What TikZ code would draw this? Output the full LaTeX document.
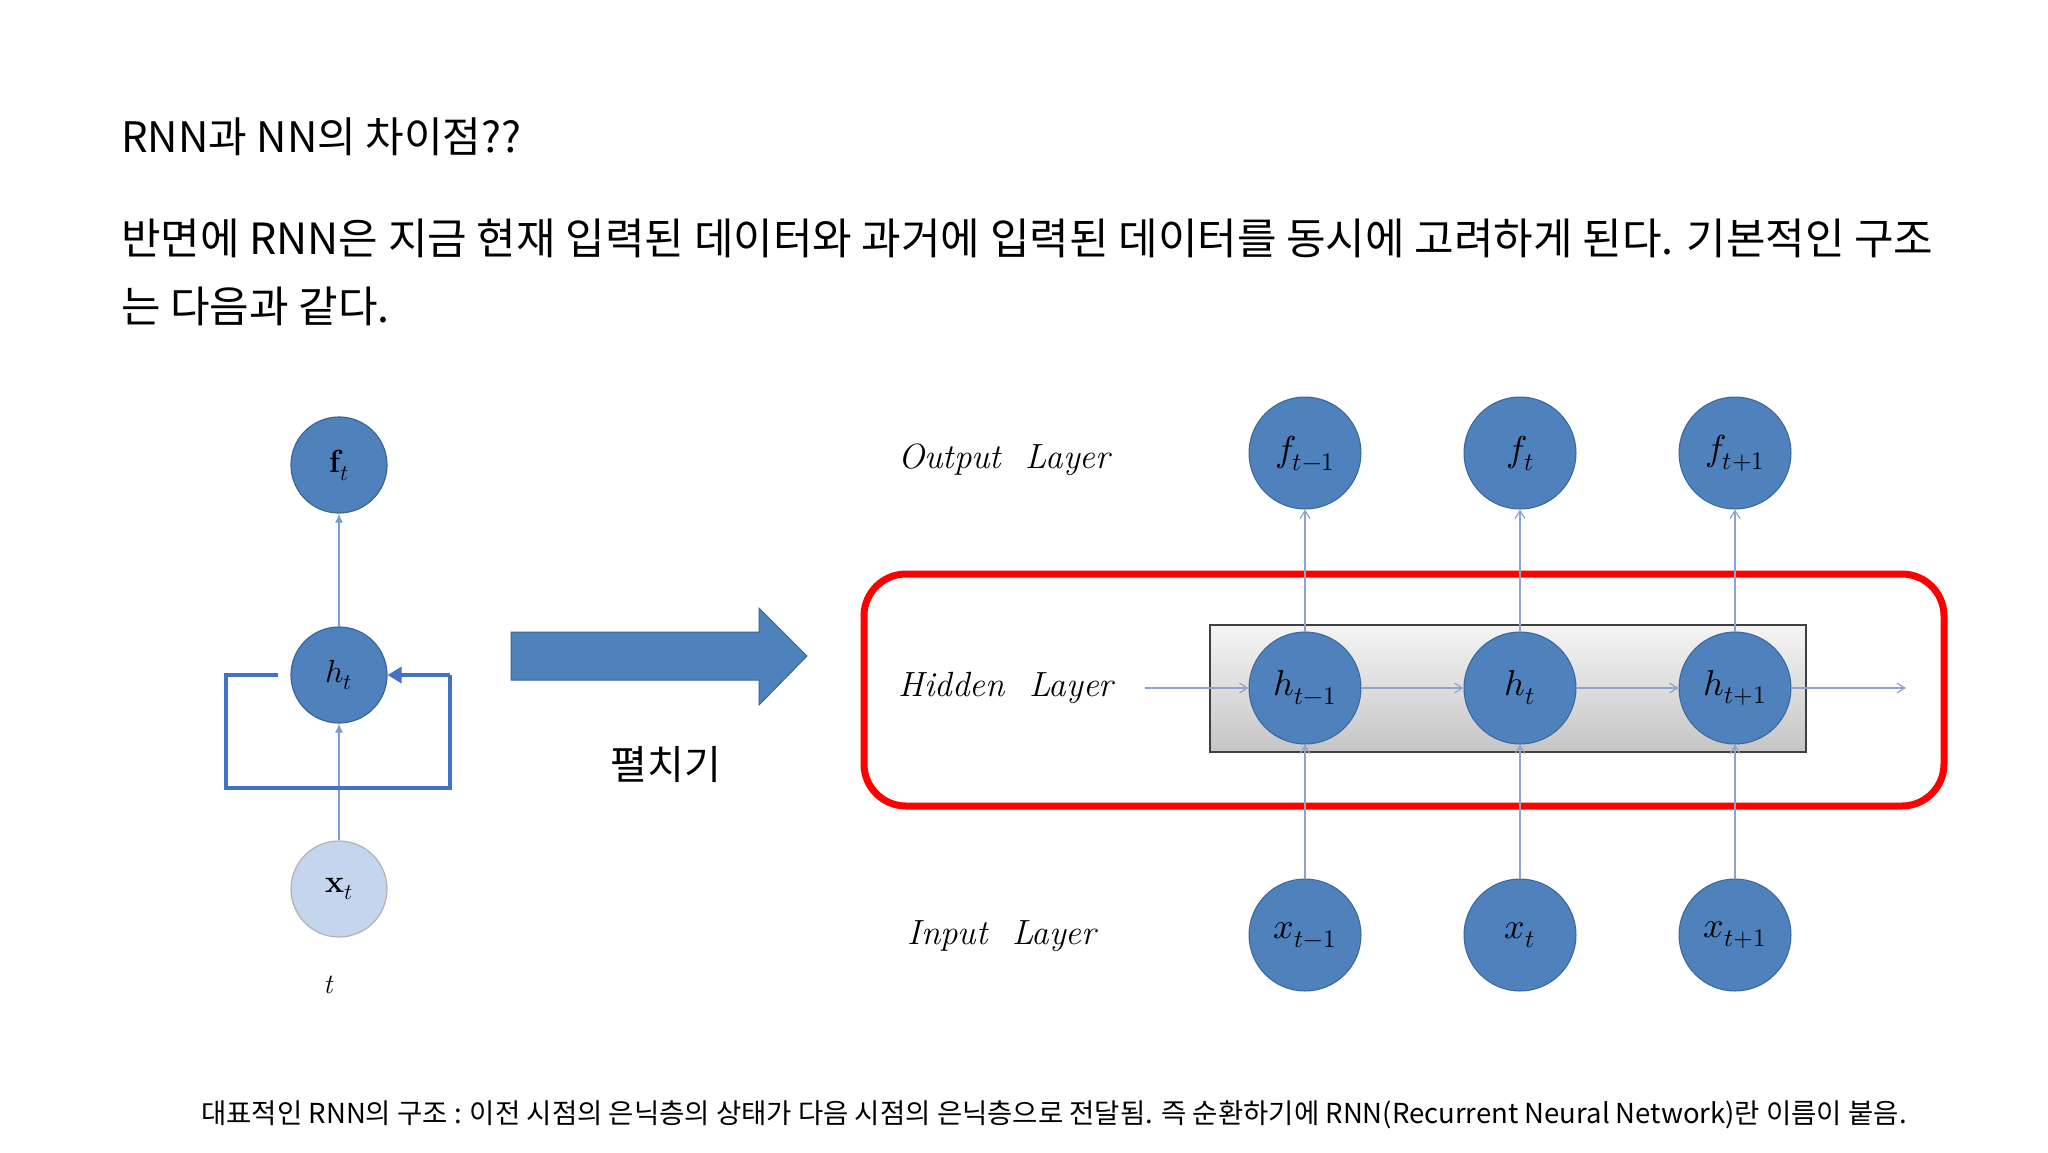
\documentclass[tikz,border=0pt]{standalone}
\usepackage{fontspec}
\usepackage{unicode-math}
\setmathfont{Latin Modern Math}
\newfontfamily\kr{Noto Sans CJK KR}
\usetikzlibrary{arrows.meta}
\definecolor{nblue}{HTML}{4F81BD}
\definecolor{nedge}{HTML}{3A6599}
\definecolor{lblue}{HTML}{C6D5EE}
\definecolor{conn}{HTML}{8EA4C8}
\definecolor{loopc}{HTML}{4472C4}
\tikzset{
 neuron/.style={circle,fill=nblue,draw=nedge,line width=1pt,minimum size=112pt,inner sep=0pt,font=\fontsize{36}{36}\selectfont},
 sneuron/.style={circle,fill=nblue,draw=nedge,line width=1.2pt,minimum size=96pt,inner sep=0pt,font=\fontsize{32}{32}\selectfont},
 conn/.style={draw=conn,line width=1.2pt,-{Straight Barb[length=8pt,width=10pt]}},
 layerlbl/.style={font=\fontsize{35}{35}\selectfont\itshape},
 krtext/.style={font=\kr\fontsize{42}{42}\selectfont,anchor=west,inner sep=0pt}
}
\begin{document}
\begin{tikzpicture}[x=1pt,y=-1pt]
\useasboundingbox[fill=white] (0,0) rectangle (2048,1152);
% texts
\node[krtext] (title) at (121,137) {RNN과 NN의 차이점??};
\node[krtext,font=\kr\fontsize{43}{43}\selectfont] (p1) at (121,238) {반면에 RNN은 지금 현재 입력된 데이터와 과거에 입력된 데이터를 동시에 고려하게 된다. 기본적인 구조};
\node[krtext,font=\kr\fontsize{43}{43}\selectfont] (p2) at (121,306) {는 다음과 같다.};
\node[font=\kr\fontsize{27.5}{27.5}\selectfont,inner sep=0pt] (cap) at (1054,1115) {대표적인 RNN의 구조 : 이전 시점의 은닉층의 상태가 다음 시점의 은닉층으로 전달됨. 즉 순환하기에 RNN(Recurrent Neural Network)란 이름이 붙음.};
% left folded RNN
\node[sneuron] (f) at (339,465) {$\mathbf{f}_{t}$};
\node[sneuron] (h) at (339,675) {$h_t$};
\node[sneuron,fill=lblue,draw=gray!60] (x) at (339,889) {$\mathbf{x}_{t}$};
\node[font=\fontsize{28}{28}\selectfont\itshape] (tl) at (328,985) {t};
\draw[conn,draw=loopc!70,-{Latex[length=9pt,width=8pt]}] (h) -- (f);
\draw[conn,draw=loopc!70,-{Latex[length=9pt,width=8pt]}] (x) -- (h);
\coordinate (la) at (278,675);
\coordinate (lb) at (226,675);
\coordinate (lc) at (226,788);
\coordinate (ld) at (450,788);
\coordinate (le) at (450,675);
\draw[loopc,line width=4pt] (la) -- (lb) -- (lc) -- (ld) -- (le);
\draw[loopc,line width=4pt,-{Triangle[length=14pt,width=16pt]}] (le) -- (h.east);
% big arrow
\fill[nblue,draw=nedge,line width=1pt] (511,632) -- (759,632) -- (759,608) -- (807,656) -- (759,705) -- (759,680) -- (511,680) -- cycle;
\node[font=\kr\fontsize{40}{40}\selectfont] (unf) at (666,765) {펼치기};
% unrolled
\draw[red,line width=7pt,rounded corners=42pt] (864,574) rectangle (1944,806);
\shade[top color=gray!8,bottom color=gray!45,draw=black!75,line width=1.5pt] (1210,625) rectangle (1806,752);
\node[layerlbl] (ol) at (1004,460) {Output\ \ Layer};
\node[layerlbl] (hl) at (1006,688) {Hidden\ \ Layer};
\node[layerlbl] (il) at (1002,936) {Input\ \ Layer};
\node[neuron] (f1) at (1305,453) {$f_{t-1}$};
\node[neuron] (f2) at (1520,453) {$f_{t}$};
\node[neuron] (f3) at (1735,453) {$f_{t+1}$};
\node[neuron] (x1) at (1305,935) {$x_{t-1}$};
\node[neuron] (x2) at (1520,935) {$x_{t}$};
\node[neuron] (x3) at (1735,935) {$x_{t+1}$};
\coordinate (hin) at (1145,688);
\coordinate (hout) at (1906,688);
\node[neuron] (h1) at (1305,688) {$h_{t-1}$};
\node[neuron] (h2) at (1520,688) {$h_{t}$};
\node[neuron] (h3) at (1735,688) {$h_{t+1}$};
\draw[conn] (hin) -- (h1);
\draw[conn] (h1) -- (h2);
\draw[conn] (h2) -- (h3);
\draw[conn] (h3) -- (hout);
\draw[conn] (h1) -- (f1); \draw[conn] (h2) -- (f2); \draw[conn] (h3) -- (f3);
\draw[conn] (x1) -- (h1); \draw[conn] (x2) -- (h2); \draw[conn] (x3) -- (h3);
\end{tikzpicture}
\end{document}
